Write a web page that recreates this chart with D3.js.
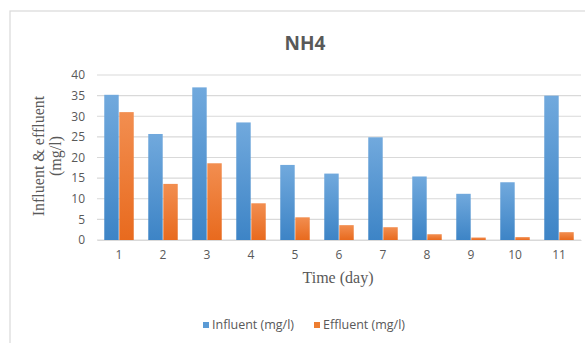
<!DOCTYPE html>
<html>
<head>
<meta charset="utf-8">
<script src="https://cdn.jsdelivr.net/npm/d3@7"></script>
<style>
  body { margin: 0; background: #fff; }
</style>
</head>
<body>
<div id="container"></div>
<script>
// data
const days = ["1", "2", "3", "4", "5", "6", "7", "8", "9", "10", "11"];
const influent = [35.2, 25.7, 37.0, 28.5, 18.2, 16.1, 24.9, 15.4, 11.2, 14.0, 35.0];
const effluent = [31.0, 13.6, 18.6, 8.9, 5.5, 3.6, 3.1, 1.4, 0.6, 0.7, 1.9];
const yTicks = [0, 5, 10, 15, 20, 25, 30, 35, 40];
const seriesNames = ["Influent (mg/l)", "Effluent (mg/l)"];

const width = 585, height = 343;
const plot = { left: 97, right: 581, top: 75, bottom: 240 };

const svg = d3.select("#container").append("svg")
    .attr("width", width)
    .attr("height", height);

// gradients for the bars
const defs = svg.append("defs");
const grads = [["gBlue", "#71a9dd", "#3d84c6"], ["gOrange", "#f28e50", "#e86a1e"]];
grads.forEach(function (g) {
    const lg = defs.append("linearGradient").attr("id", g[0])
        .attr("x1", 0).attr("y1", 0).attr("x2", 0).attr("y2", 1);
    lg.append("stop").attr("offset", "0%").attr("stop-color", g[1]);
    lg.append("stop").attr("offset", "100%").attr("stop-color", g[2]);
});
const colors = ["url(#gBlue)", "url(#gOrange)"];
const legendColors = ["#5b9bd5", "#ed7d31"];

// chart frame
svg.append("rect")
    .attr("x", 10).attr("y", 11)
    .attr("width", 580).attr("height", 340)
    .attr("fill", "none")
    .attr("stroke", "#d9d9d9")
    .attr("stroke-width", 1.2);

const x = d3.scaleBand()
    .domain(days)
    .range([plot.left, plot.right])
    .paddingInner(0.33)
    .paddingOuter(0.165);

const x1 = d3.scaleBand()
    .domain([0, 1])
    .range([0, x.bandwidth()])
    .paddingInner(0.04);

const y = d3.scaleLinear()
    .domain([0, 40])
    .range([plot.bottom, plot.top]);

// gridlines
svg.append("g")
    .selectAll("line")
    .data(yTicks)
    .enter()
    .append("line")
    .attr("x1", plot.left).attr("x2", plot.right)
    .attr("y1", function (d) { return y(d); })
    .attr("y2", function (d) { return y(d); })
    .attr("stroke", "#d9d9d9")
    .attr("stroke-width", 1.2);

// y axis labels
const yAxis = d3.axisLeft(y).tickValues(yTicks).tickSize(0).tickPadding(12);
const gy = svg.append("g")
    .attr("transform", "translate(" + plot.left + ",0)")
    .call(yAxis);
gy.select(".domain").remove();
gy.selectAll("text")
    .attr("fill", "#595959")
    .style("font-family", "'Open Sans', sans-serif")
    .style("font-size", "12px");

// bars
const groups = svg.append("g")
    .selectAll("g")
    .data(days)
    .enter()
    .append("g")
    .attr("transform", function (d) { return "translate(" + x(d) + ",0)"; });

groups.selectAll("rect")
    .data(function (d, i) { return [influent[i], effluent[i]]; })
    .enter()
    .append("rect")
    .attr("x", function (d, j) { return x1(j); })
    .attr("y", function (d) { return y(d); })
    .attr("width", x1.bandwidth())
    .attr("height", function (d) { return y(0) - y(d); })
    .attr("fill", function (d, j) { return colors[j]; });

// x axis
const xAxis = d3.axisBottom(x).tickSize(0).tickPadding(10);
const gx = svg.append("g")
    .attr("transform", "translate(0," + plot.bottom + ")")
    .call(xAxis);
gx.select(".domain")
    .attr("stroke", "#d9d9d9")
    .attr("stroke-width", 1.2);
gx.selectAll("text")
    .attr("fill", "#595959")
    .style("font-family", "'Open Sans', sans-serif")
    .style("font-size", "12px");

// title
svg.append("text")
    .attr("x", 305)
    .attr("y", 50)
    .attr("text-anchor", "middle")
    .attr("fill", "#595959")
    .style("font-family", "'Open Sans', sans-serif")
    .style("font-weight", "bold")
    .style("font-size", "19px")
    .text("NH4");

// axis titles
svg.append("text")
    .attr("x", 338)
    .attr("y", 283)
    .attr("text-anchor", "middle")
    .attr("fill", "#595959")
    .style("font-family", "'Liberation Serif', serif")
    .style("font-size", "16px")
    .text("Time (day)");

const yt = svg.append("text")
    .attr("transform", "translate(44,156) rotate(-90)")
    .attr("text-anchor", "middle")
    .attr("fill", "#595959")
    .style("font-family", "'Liberation Serif', serif")
    .style("font-size", "16px");
yt.append("tspan").attr("x", 0).attr("y", 0).text("Influent & effluent");
yt.append("tspan").attr("x", 0).attr("y", 17).text("(mg/l)");

// legend
const legendX = [203, 314];
const legend = svg.append("g")
    .selectAll("g")
    .data(seriesNames)
    .enter()
    .append("g")
    .attr("transform", function (d, i) { return "translate(" + legendX[i] + ",322)"; });
legend.append("rect")
    .attr("width", 6).attr("height", 6)
    .attr("fill", function (d, i) { return legendColors[i]; });
legend.append("text")
    .attr("x", 9)
    .attr("y", 7)
    .attr("fill", "#595959")
    .style("font-family", "'Open Sans', sans-serif")
    .style("font-size", "12.5px")
    .text(function (d) { return d; });
</script>
</body>
</html>
